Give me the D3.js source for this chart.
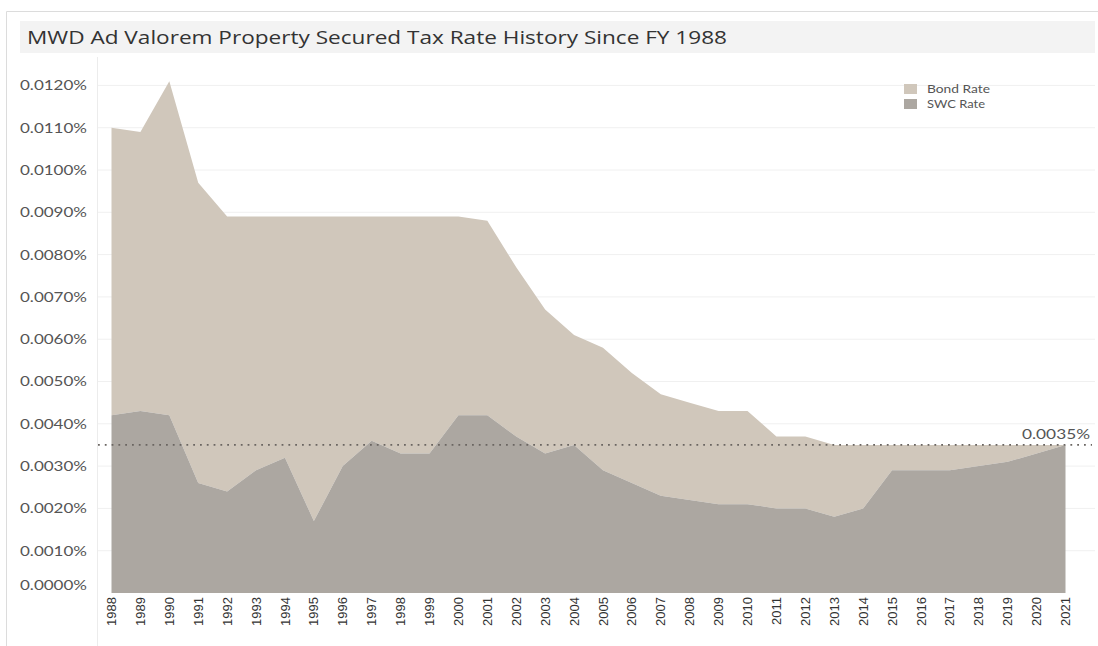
<!DOCTYPE html>
<html><head><meta charset="utf-8">
<script src="https://cdn.jsdelivr.net/npm/d3@7"></script>
<style>
html,body{margin:0;padding:0;background:#fff;}
svg{display:block;}
</style></head>
<body>
<svg id="chart" width="1098" height="646"></svg>
<script>
const years = d3.range(1988, 2022).map(String);
// SWC portion of the rate (percent)
const swcRate = [0.0042,0.0043,0.0042,0.0026,0.0024,0.0029,0.0032,0.0017,0.0030,0.0036,
  0.0033,0.0033,0.0042,0.0042,0.0037,0.0033,0.0035,0.0029,0.0026,0.0023,
  0.0022,0.0021,0.0021,0.0020,0.0020,0.0018,0.0020,0.0029,0.0029,0.0029,
  0.0030,0.0031,0.0033,0.0035];
// Bond portion of the rate (percent), stacked on top of SWC
const bondRate = [0.0068,0.0066,0.0079,0.0071,0.0065,0.0060,0.0057,0.0072,0.0059,0.0053,
  0.0056,0.0056,0.0047,0.0046,0.0040,0.0034,0.0026,0.0029,0.0026,0.0024,
  0.0023,0.0022,0.0022,0.0017,0.0017,0.0017,0.0015,0.0006,0.0006,0.0006,
  0.0005,0.0004,0.0002,0.0000];
const yTicks = d3.range(0, 13).map(d => d / 1000);
const refValue = 0.0035;
const seriesNames = ["SWC Rate", "Bond Rate"];
const colors = {"Bond Rate": "#d0c7bb", "SWC Rate": "#aca7a1"};

const svg = d3.select("#chart");

// outer frame
svg.append("path").attr("d", "M6.5,646 V11.5 H1098").attr("fill","none").attr("stroke","#dcdcdc").attr("stroke-width",1);
// title band
svg.append("rect").attr("x",20).attr("y",21).attr("width",1075).attr("height",32).attr("fill","#f3f3f3");
svg.append("text").attr("x",27).attr("y",44).attr("font-family","'Open Sans', sans-serif")
  .attr("font-size",18).attr("fill","#333")
  .attr("textLength",700).attr("lengthAdjust","spacingAndGlyphs")
  .text("MWD Ad Valorem Property Secured Tax Rate History Since FY 1988");

// pane separator
svg.append("line").attr("x1",97.5).attr("x2",97.5).attr("y1",57).attr("y2",646).attr("stroke","#ececec");

const x = d3.scalePoint().domain(years).range([111.5, 1065.5]);
const y = d3.scaleLinear().domain([0, 0.012]).range([593, 85.4]);

// gridlines
svg.append("g").selectAll("line").data(yTicks.filter(d => d > 0)).join("line")
  .attr("x1", 98).attr("x2", 1095).attr("y1", d => y(d)).attr("y2", d => y(d))
  .attr("stroke", "#f0f0f0");

// y tick labels
const fmt = d => d3.format(".4f")(d) + "%";
svg.append("g").selectAll("text").data(yTicks).join("text")
  .attr("x", 20).attr("y", d => d === 0 ? y(d) - 8 : y(d))
  .attr("dy", "0.35em").attr("font-family","Lato, sans-serif").attr("font-size",14)
  .attr("fill","#555").attr("textLength",67).attr("lengthAdjust","spacingAndGlyphs").text(fmt);

// stacked areas
const table = years.map((yr, i) => ({year: yr, "SWC Rate": swcRate[i], "Bond Rate": bondRate[i]}));
const stacked = d3.stack().keys(seriesNames)(table);
const area = d3.area().x(d => x(d.data.year)).y0(d => y(d[0])).y1(d => y(d[1]));
svg.append("g").selectAll("path").data(stacked.slice().reverse()).join("path")
  .attr("d", area).attr("fill", d => colors[d.key]);

// x axis labels
svg.append("g").selectAll("text").data(years).join("text")
  .attr("transform", d => `translate(${x(d)},597) rotate(-90)`)
  .attr("text-anchor","end").attr("dy","0.35em")
  .attr("font-family","'Liberation Sans', Arial, sans-serif").attr("font-size",13).attr("fill","#333")
  .text(d => d);

// reference line
svg.append("line").attr("x1",98).attr("x2",1092).attr("y1",y(refValue)).attr("y2",y(refValue))
  .attr("stroke","#6a6561").attr("stroke-width",1.8).attr("stroke-dasharray","1.8,5");
svg.append("text").attr("x",1022).attr("y",y(refValue)-6)
  .attr("font-family","Lato, sans-serif").attr("font-size",14).attr("fill","#555")
  .attr("textLength",68).attr("lengthAdjust","spacingAndGlyphs")
  .text(fmt(refValue));

// legend
const legendItems = ["Bond Rate", "SWC Rate"];
const lg = svg.append("g").attr("transform","translate(904,84)");
legendItems.forEach((k, i) => {
  lg.append("rect").attr("x",0).attr("y",i*15).attr("width",13).attr("height",10).attr("fill",colors[k]);
  lg.append("text").attr("x",23).attr("y",i*15+5).attr("dy","0.35em")
    .attr("font-family","Lato, sans-serif").attr("font-size",10.5).attr("fill","#555")
    .attr("textLength", k === "Bond Rate" ? 63 : 58).attr("lengthAdjust","spacingAndGlyphs").text(k);
});
</script>
</body></html>
